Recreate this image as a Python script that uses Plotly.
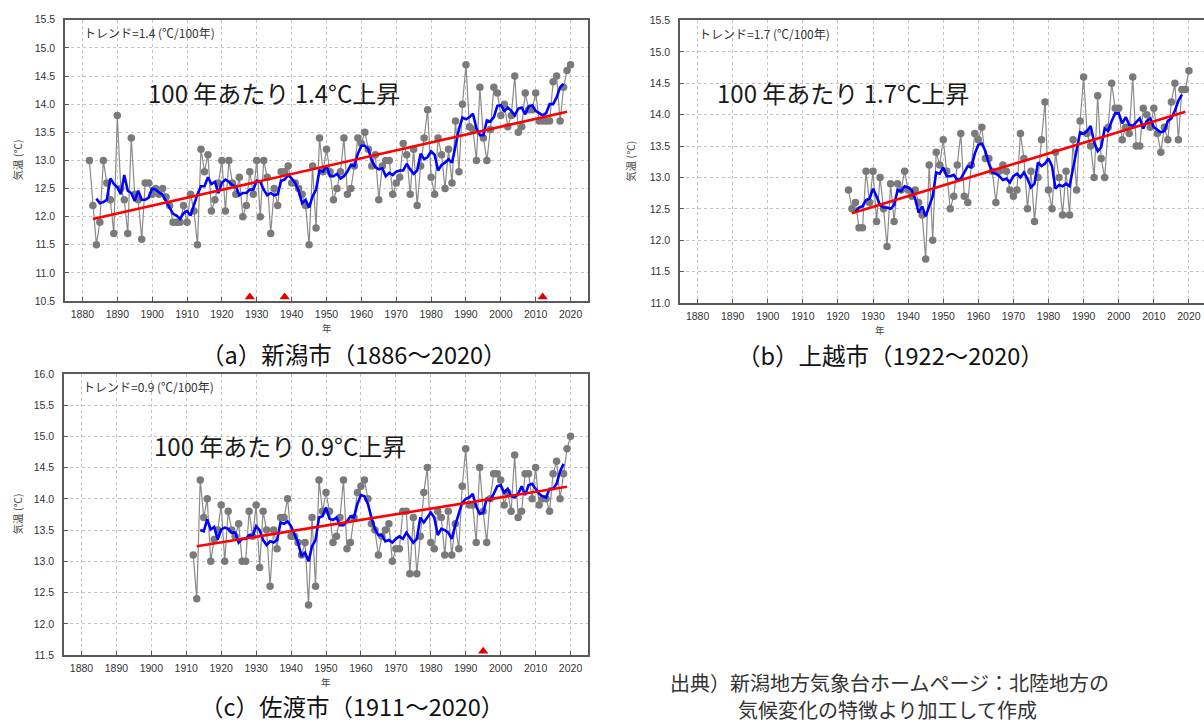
import pandas as pd
import plotly.graph_objects as go

# ---- annual mean temperature (°C) ----
years_a = list(range(1882, 2021))   # 新潟市
temp_a = [
    13.0, 12.2, 11.5, 11.9, 13.0, 12.6, 12.3, 11.7, 13.8, 12.5,
    12.3, 11.7, 13.4, 12.4, 12.3, 11.6, 12.6, 12.6, 12.4, 12.5,
    12.4, 12.5, 12.35, 12.2, 11.9, 11.9, 11.9, 12.2, 11.9, 12.4,
    12.1, 11.5, 13.2, 12.8, 13.1, 12.1, 12.3, 12.6, 13.0, 12.1,
    13.0, 12.6, 12.4, 12.7, 12.0, 12.2, 12.8, 12.4, 13.0, 12.0,
    13.0, 12.7, 11.7, 12.5, 12.2, 12.8, 12.8, 12.9, 12.6, 12.6,
    12.5, 12.4, 12.2, 11.5, 12.9, 11.8, 13.4, 12.8, 13.2, 12.8,
    12.3, 12.5, 12.8, 13.4, 12.4, 12.5, 12.9, 13.4, 13.3, 13.5,
    13.2, 12.9, 13.1, 12.3, 12.9, 13.0, 13.0, 12.4, 12.6, 12.7,
    13.3, 13.1, 12.4, 13.2, 12.2, 12.9, 13.4, 13.9, 12.7, 12.4,
    13.4, 13.1, 12.5, 13.2, 12.6, 13.7, 12.8, 14.0, 14.7, 13.6,
    13.55, 13.0, 14.3, 13.4, 13.0, 13.55, 14.3, 14.2, 13.8, 14.0,
    13.6, 13.8, 14.5, 13.5, 13.6, 14.2, 13.9, 13.9, 14.2, 13.7,
    13.7, 13.7, 13.7, 14.4, 14.5, 13.7, 14.3, 14.6, 14.7,
]

years_b = list(range(1923, 2021))   # 上越市
temp_b = [
    12.8, 12.5, 12.6, 12.2, 12.2, 13.1, 12.6, 13.1, 12.3, 13.0,
    12.5, 11.9, 12.9, 12.3, 12.9, 12.8, 13.1, 12.8, 12.7, 12.8,
    12.6, 12.4, 11.7, 13.2, 12.0, 13.4, 13.2, 13.6, 13.1, 12.5,
    12.7, 13.2, 13.7, 12.7, 12.6, 13.2, 13.7, 13.6, 13.8, 13.3,
    13.3, 13.1, 12.6, 13.1, 13.2, 13.1, 12.8, 12.7, 12.8, 13.7,
    13.3, 12.5, 13.1, 12.3, 13.0, 13.6, 14.2, 12.8, 12.5, 13.4,
    13.0, 12.4, 13.1, 12.4, 13.6, 12.8, 13.9, 14.6, 13.7, 13.5,
    13.0, 14.3, 13.3, 13.0, 13.8, 14.5, 14.1, 14.1, 13.6, 13.8,
    13.7, 14.6, 13.5, 13.5, 14.1, 14.0, 13.8, 14.1, 13.7, 13.4,
    13.8, 13.6, 14.2, 14.5, 13.6, 14.4, 14.4, 14.7,
]

years_c = list(range(1912, 2021))   # 佐渡市
temp_c = [
    13.1, 12.4, 14.3, 13.7, 14.0, 13.0, 13.35, 13.5, 13.9, 13.0,
    13.8, 13.5, 13.4, 13.6, 13.0, 13.0, 13.8, 13.4, 13.9, 12.9,
    13.8, 13.5, 12.6, 13.5, 13.2, 13.7, 13.7, 14.0, 13.4, 13.4,
    13.3, 13.1, 13.3, 12.3, 13.7, 12.6, 14.3, 13.8, 14.1, 13.8,
    13.3, 13.4, 13.7, 14.3, 13.2, 13.3, 13.7, 14.1, 14.2, 14.3,
    14.0, 13.6, 13.5, 13.1, 13.4, 13.5, 13.6, 13.0, 13.2, 13.2,
    13.8, 13.8, 12.8, 13.7, 12.8, 13.4, 14.1, 14.5, 13.3, 13.2,
    13.8, 13.7, 13.1, 13.8, 13.1, 13.6, 13.2, 14.2, 14.8, 13.9,
    13.9, 13.3, 14.5, 13.8, 13.3, 14.0, 14.4, 14.4, 14.3, 13.9,
    14.1, 13.8, 14.7, 13.7, 13.8, 14.4, 14.4, 14.0, 14.5, 13.9,
    14.0, 14.0, 13.8, 14.4, 14.6, 14.0, 14.4, 14.8, 15.0,
]

# ---- long-term trend (°C / 100 years) and line start ----
trend_a, trend_b, trend_c = 1.4, 1.7, 0.9
trend_span_a = (1883, 2019); trend_start_a = 11.96
trend_span_b = (1924, 2019); trend_start_b = 12.43
trend_span_c = (1913, 2019); trend_start_c = 13.24

# ---- years with station relocation (▲) ----
moves_a = [1928, 1938, 2012]
moves_b = []
moves_c = [1995]

# ---- text ----
titles = ["（a）新潟市（1886～2020）", "（b）上越市（1922～2020）", "（c）佐渡市（1911～2020）"]
big_labels = ["100 年あたり 1.4°C上昇", "100 年あたり 1.7°C上昇", "100 年あたり 0.9°C上昇"]
decades = list(range(1880, 2021, 10))

W, H = 1204, 726
FONT_JP = "Noto Sans CJK JP, sans-serif"
FONT_TICK = "Liberation Sans, Arial, sans-serif"


def px_x(x):
    return x / W


def px_y(y):
    return 1 - y / H


panels = [
    dict(years=years_a, temp=temp_a, trend=trend_a, span=trend_span_a, start=trend_start_a,
         moves=moves_a, box=(65, 588, 14, 300), xr=[1875, 2025], yr=[10.5, 15.5], rmirror=True,
         title=titles[0], big=big_labels[0], big_xy=(274, 88), title_xy=(354, 354),
         ytitle_x=17, xtitle_x=326.5),
    dict(years=years_b, temp=temp_b, trend=trend_b, span=trend_span_b, start=trend_start_b,
         moves=moves_b, box=(680, 1204, 14.7, 302), xr=[1875, 2024.3], yr=[11.0, 15.5], rmirror=False,
         title=titles[1], big=big_labels[1], big_xy=(843, 88), title_xy=(890, 355),
         ytitle_x=631, xtitle_x=880),
    dict(years=years_c, temp=temp_c, trend=trend_c, span=trend_span_c, start=trend_start_c,
         moves=moves_c, box=(64, 588, 374, 660), xr=[1875, 2025], yr=[11.5, 16.0], rmirror=True,
         title=titles[2], big=big_labels[2], big_xy=(280, 447), title_xy=(352, 712),
         ytitle_x=17, xtitle_x=326),
]

fig = go.Figure()
annotations = []
layout_axes = {}

for i, p in enumerate(panels, start=1):
    xa = "x" if i == 1 else f"x{i}"
    ya = "y" if i == 1 else f"y{i}"
    l, r, t, b = p["box"]

    # observed annual values
    fig.add_trace(go.Scatter(
        x=p["years"], y=p["temp"], xaxis=xa, yaxis=ya, mode="lines+markers",
        line=dict(color="#8a8a8a", width=1.2),
        marker=dict(color="#7a7a7a", size=7.5), showlegend=False, hoverinfo="skip"))

    # 5-year running mean
    run = pd.Series(p["temp"], index=p["years"]).rolling(5, center=True).mean().dropna()
    fig.add_trace(go.Scatter(
        x=list(run.index), y=list(run.values), xaxis=xa, yaxis=ya, mode="lines",
        line=dict(color="#0000ff", width=2.6), showlegend=False, hoverinfo="skip"))

    # linear trend
    y0, y1 = p["span"]
    tx = [y0, y1]
    ty = [p["start"], p["start"] + p["trend"] / 100 * (y1 - y0)]
    fig.add_trace(go.Scatter(
        x=tx, y=ty, xaxis=xa, yaxis=ya, mode="lines",
        line=dict(color="#ff0000", width=2.6), showlegend=False, hoverinfo="skip"))

    # relocation markers sitting on the bottom axis
    if p["moves"]:
        span_val = p["yr"][1] - p["yr"][0]
        lift = 4.0 * span_val / (b - t)
        fig.add_trace(go.Scatter(
            x=p["moves"], y=[p["yr"][0] + lift] * len(p["moves"]), xaxis=xa, yaxis=ya,
            mode="markers", marker=dict(symbol="triangle-up", color="#e00000", size=9),
            cliponaxis=False, showlegend=False, hoverinfo="skip"))

    common = dict(showgrid=True, gridcolor="#c4c4c4", griddash="dot", gridwidth=1,
                  showline=True, linecolor="#5a5a5a", linewidth=1.5,
                  ticks="inside", ticklen=4, tickcolor="#5a5a5a",
                  tickfont=dict(family=FONT_TICK, size=10.5, color="#333333"),
                  zeroline=False, fixedrange=True)

    layout_axes["xaxis" if i == 1 else f"xaxis{i}"] = dict(
        common, domain=[px_x(l), px_x(r)], range=p["xr"], anchor=ya,
        tickmode="array", tickvals=decades, mirror=True, ticklabelstandoff=3)
    layout_axes["yaxis" if i == 1 else f"yaxis{i}"] = dict(
        common, domain=[px_y(b), px_y(t)], range=p["yr"], anchor=xa,
        dtick=0.5, tick0=p["yr"][0], tickformat=".1f", mirror=p["rmirror"],
        ticklabelstandoff=6)

    # texts
    annotations.append(dict(
        x=px_x(l + 17), y=px_y(t + 13), xref="paper", yref="paper", xanchor="left",
        yanchor="middle", showarrow=False,
        text=f"トレンド={p['trend']} (℃/100年)",
        font=dict(family=FONT_JP, size=12, color="#333333")))
    annotations.append(dict(
        x=px_x(p["big_xy"][0]), y=px_y(p["big_xy"][1]), xref="paper", yref="paper",
        xanchor="center", yanchor="middle", showarrow=False, text=p["big"],
        font=dict(family=FONT_JP, size=24, color="#1a1a1a")))
    annotations.append(dict(
        x=px_x(p["ytitle_x"]), y=px_y((t + b) / 2), xref="paper", yref="paper",
        xanchor="center", yanchor="middle", showarrow=False, textangle=-90,
        text="気温 (℃)", font=dict(family=FONT_JP, size=10.5, color="#444444")))
    annotations.append(dict(
        x=px_x(p["xtitle_x"]), y=px_y(b + 27), xref="paper", yref="paper",
        xanchor="center", yanchor="middle", showarrow=False, text="年",
        font=dict(family=FONT_JP, size=9.5, color="#444444")))
    annotations.append(dict(
        x=px_x(p["title_xy"][0]), y=px_y(p["title_xy"][1]), xref="paper", yref="paper",
        xanchor="center", yanchor="middle", showarrow=False, text=p["title"],
        font=dict(family=FONT_JP, size=23.5, color="#111111")))

# source note
annotations.append(dict(
    x=px_x(668), y=px_y(688), xref="paper", yref="paper", xanchor="left", yanchor="middle",
    showarrow=False, text="出典）新潟地方気象台ホームページ：北陸地方の",
    font=dict(family=FONT_JP, size=20, color="#333333")))
annotations.append(dict(
    x=px_x(736), y=px_y(715), xref="paper", yref="paper", xanchor="left", yanchor="middle",
    showarrow=False, text="気候変化の特徴より加工して作成",
    font=dict(family=FONT_JP, size=20, color="#333333")))

fig.update_layout(
    width=W, height=H, margin=dict(l=0, r=0, t=0, b=0),
    paper_bgcolor="white", plot_bgcolor="white",
    annotations=annotations, showlegend=False, **layout_axes)

fig.write_html("out.html", config={"displayModeBar": False})
